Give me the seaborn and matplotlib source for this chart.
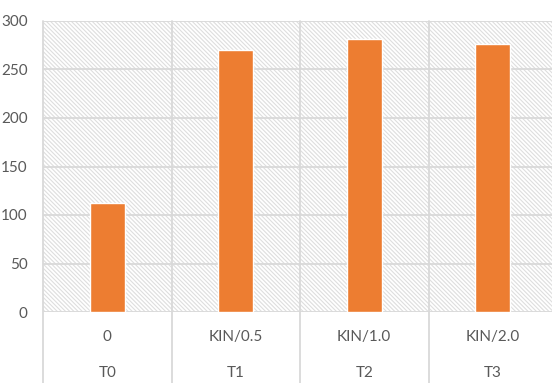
import matplotlib
matplotlib.use("Agg")
import matplotlib.pyplot as plt
import seaborn as sns
import pandas as pd
from matplotlib.patches import Rectangle
from matplotlib.lines import Line2D

# Data
treatments = ["T0", "T1", "T2", "T3"]
doses = ["0", "KIN/0.5", "KIN/1.0", "KIN/2.0"]
values = [112, 270, 281, 276]
y_ticks = [0, 50, 100, 150, 200, 250, 300]

df = pd.DataFrame({"dose": doses, "treatment": treatments, "value": values})

sns.set_theme(style="white")
plt.rcParams["font.family"] = ["Lato", "DejaVu Sans"]
plt.rcParams["hatch.color"] = "#dedede"
plt.rcParams["hatch.linewidth"] = 0.8

TEXT = "#595959"
GRID = "#d9d9d9"
BAR = "#ed7d31"
FS = 11

W, H = 552, 383
fig = plt.figure(figsize=(W / 100, H / 100), dpi=100)
left, right, top, bottom = 43, 557, 21, 312
ax = fig.add_axes([left / W, 1 - bottom / H, (right - left) / W, (bottom - top) / H])

sns.barplot(data=df, x="dose", y="value", color=BAR, width=0.27,
            saturation=1, ax=ax, zorder=3)

# hatched plot background
ax.add_patch(Rectangle((0, 0), 1, 1, transform=ax.transAxes, facecolor="white",
                       edgecolor="#dedede", hatch="\\" * 8, linewidth=0, zorder=0))

ax.set_ylim(0, 300)
ax.set_xlim(-0.5, len(doses) - 0.5)
ax.set_yticks(y_ticks)
ax.set_yticklabels([str(t) for t in y_ticks])
for t in y_ticks:
    ax.axhline(t, color=GRID, lw=1.3, zorder=1)

for s in ax.spines.values():
    s.set_visible(False)
ax.tick_params(axis="y", length=0, pad=11, labelsize=FS, labelcolor=TEXT)
ax.tick_params(axis="x", length=0, labelbottom=False)
ax.set_xlabel("")
ax.set_ylabel("")

# category separators, extending through the two label rows
ext = (H - bottom) / (bottom - top)
for i in range(len(doses) + 1):
    x = i - 0.5
    ax.add_line(Line2D([x, x], [-ext * 300, 300], color=GRID, lw=1.3,
                       clip_on=False, zorder=1))

row1 = -(337 - bottom) / (bottom - top) * 300
row2 = -(373 - bottom) / (bottom - top) * 300
for i, (d, t) in enumerate(zip(doses, treatments)):
    ax.text(i, row1, d, ha="center", va="center", color=TEXT, fontsize=FS, clip_on=False)
    ax.text(i, row2, t, ha="center", va="center", color=TEXT, fontsize=FS, clip_on=False)

fig.savefig("out.png", dpi=100)
